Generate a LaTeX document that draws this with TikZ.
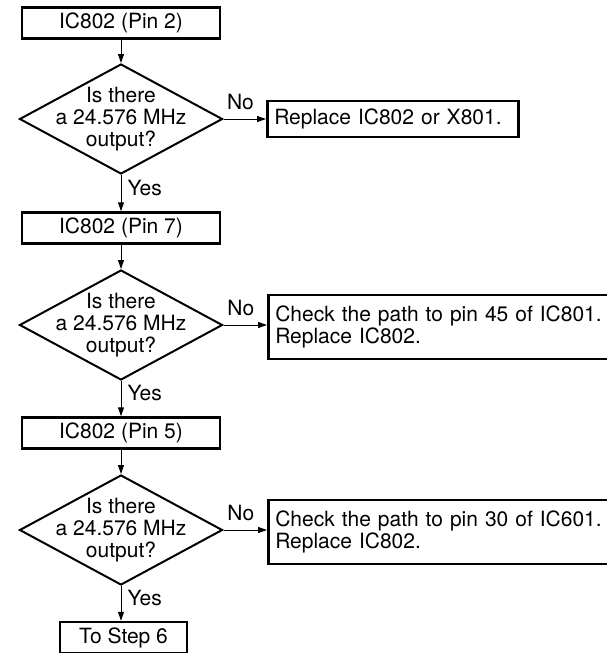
\documentclass[tikz,border=0pt]{standalone}
\usepackage{fontspec}
\setmainfont{TeX Gyre Heros}
\usetikzlibrary{shapes.geometric,arrows.meta,positioning}

\begin{document}
\begin{tikzpicture}[x=1pt,y=-1pt]
\fontsize{21}{22}\selectfont
\tikzset{stepbox/.style={rectangle, draw, line width=2.5pt, minimum width=198pt,
  minimum height=31pt, inner sep=0pt},
 askbox/.style={diamond, draw, line width=2pt, aspect=1.845, inner sep=-10pt,
  minimum width=203pt, minimum height=110pt, align=center},
 fixbox/.style={rectangle, draw, line width=2.5pt, anchor=west, align=left,
  inner xsep=7pt, inner ysep=0pt},
 arr/.style={-{Triangle[length=9pt, width=6pt]}, line width=1pt},
 tag/.style={inner sep=2pt}}

\useasboundingbox (0,0) rectangle (606,653);

\node[stepbox] (b1) at (121,23) {IC802 (Pin 2)};
\node[askbox] (d1) at (121,119) {Is there\\a 24.576 MHz\\output?};
\node[fixbox, minimum height=36pt, text width=237pt] (r1) at (266,119) {Replace IC802 or X801.};

\node[stepbox] (b2) at (121,228) {IC802 (Pin 7)};
\node[askbox] (d2) at (121,325) {Is there\\a 24.576 MHz\\output?};
\node[fixbox, minimum height=64pt, text width=360pt] (r2) at (267,327)
 {Check the path to pin 45 of IC801.\\Replace IC802.};

\node[stepbox] (b3) at (121,433) {IC802 (Pin 5)};
\node[askbox] (d3) at (121,530) {Is there\\a 24.576 MHz\\output?};
\node[fixbox, minimum height=64pt, text width=360pt] (r3) at (267,532)
 {Check the path to pin 30 of IC601.\\Replace IC802.};

\node[stepbox, minimum width=127pt] (s6) at (123.5,637.5) {To Step 6};

\draw[arr] (b1) -- (d1);
\draw[arr] (d1.east) -- node[tag, above=7pt, pos=0.4] (no1) {No} (d1.east -| r1.west);
\draw[arr] (d1) -- node[tag, right=4pt, pos=0.35] (yes1) {Yes} (b2);
\draw[arr] (b2) -- (d2);
\draw[arr] (d2.east) -- node[tag, above=7pt, pos=0.4] (no2) {No} (d2.east -| r2.west);
\draw[arr] (d2) -- node[tag, right=4pt, pos=0.35] (yes2) {Yes} (b3);
\draw[arr] (b3) -- (d3);
\draw[arr] (d3.east) -- node[tag, above=7pt, pos=0.4] (no3) {No} (d3.east -| r3.west);
\draw[arr] (d3.south) -- node[tag, right=4pt, pos=0.35] (yes3) {Yes} (d3.south |- s6.north);
\end{tikzpicture}
\end{document}
